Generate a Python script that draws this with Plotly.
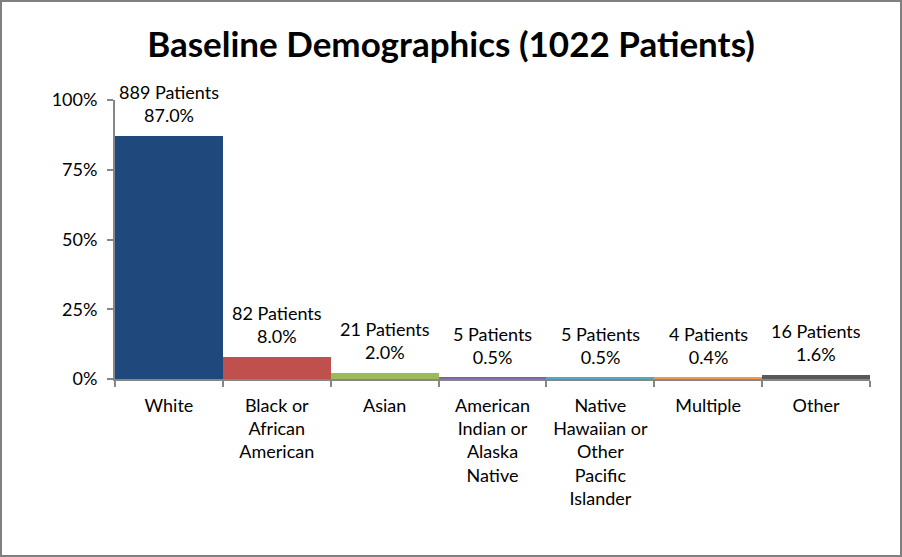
import plotly.graph_objects as go

categories = ["White", "Black or<br>African<br>American", "Asian",
              "American<br>Indian or<br>Alaska<br>Native",
              "Native<br>Hawaiian or<br>Other<br>Pacific<br>Islander",
              "Multiple", "Other"]
patients = [889, 82, 21, 5, 5, 4, 16]
percent = [87.0, 8.0, 2.0, 0.5, 0.5, 0.4, 1.6]
bar_colors = ["#1F497D", "#C0504D", "#9BBB59", "#8064A2", "#4BACC6", "#F79646", "#595959"]

labels = [f"{n} Patients<br>{p:.1f}%" for n, p in zip(patients, percent)]
shares = [p / 100 for p in percent]

fig = go.Figure()
fig.add_trace(go.Bar(
    x=categories,
    y=shares,
    marker=dict(color=bar_colors, line=dict(width=0)),
    cliponaxis=False,
    width=1.0,
))

# data labels above each bar
for cat, val, lab in zip(categories, shares, labels):
    fig.add_annotation(x=cat, y=val, text=lab, showarrow=False,
                       yanchor="bottom", yshift=8,
                       font=dict(size=18, color="#000000"))

W, H = 902, 557
L, R, T, B = 115, 32, 100, 178
pw, ph = W - L - R, H - T - B

fig.update_layout(
    width=W, height=H,
    margin=dict(l=L, r=R, t=T, b=B, autoexpand=False),
    paper_bgcolor="white",
    plot_bgcolor="white",
    font=dict(family="Lato", size=18, color="#000000"),
    title=dict(text="<b>Baseline Demographics (1022 Patients)</b>",
               x=0.5, xref="container", y=0.92, yref="container",
               xanchor="center", yanchor="middle",
               font=dict(size=35, family="Lato")),
    showlegend=False,
    bargap=0,
    shapes=[dict(type="rect", xref="paper", yref="paper",
                 x0=-(L - 1) / pw, x1=1 + (R - 1) / pw,
                 y0=-(B - 1) / ph, y1=1 + (T - 1) / ph,
                 line=dict(color="#808080", width=2))],
)
fig.update_xaxes(
    showline=True, linecolor="#868686", linewidth=2,
    ticks="outside", tickson="boundaries", ticklen=6, tickcolor="#868686", tickwidth=2,
    tickfont=dict(size=18), tickangle=0, showgrid=False, ticklabelstandoff=9,
    automargin=False,
)
fig.update_yaxes(
    range=[0, 1], tickvals=[0, 0.25, 0.5, 0.75, 1.0], tickformat=".0%",
    showline=True, linecolor="#868686", linewidth=2,
    ticks="outside", ticklen=6, tickcolor="#868686", tickwidth=2,
    tickfont=dict(size=18), showgrid=False, zeroline=False, ticklabelstandoff=6,
    automargin=False,
)

fig.write_html("out.html", config={"displayModeBar": False},
               post_script="document.body.style.margin='0';")
